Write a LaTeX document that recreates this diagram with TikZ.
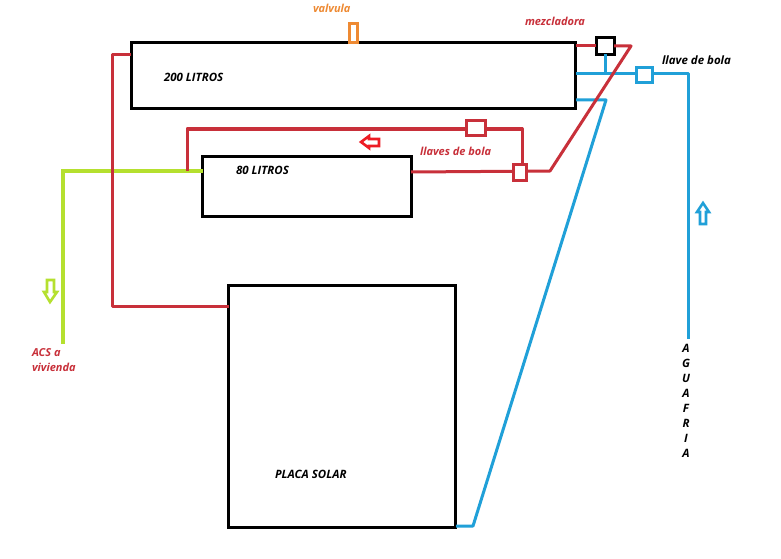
\documentclass[tikz,border=0pt]{standalone}
\usepackage{fontspec}
\setmainfont{Open Sans}
\definecolor{cred}{HTML}{C8303A}
\definecolor{cblue}{HTML}{20A0D8}
\definecolor{cgreen}{HTML}{B5E02F}
\definecolor{corange}{HTML}{EE8A33}
\definecolor{brightred}{HTML}{ED1C24}
\tikzset{
  tank/.style={draw=black,line width=3pt,fill=white,inner sep=0pt,outer sep=0pt,anchor=north west},
  valvebox/.style={draw=#1,line width=3pt,fill=white,inner sep=0pt,outer sep=0pt,anchor=center},
  redpipe/.style={draw=cred,line width=3pt,line join=round},
  bluepipe/.style={draw=cblue,line width=3pt,line join=round},
  greenpipe/.style={draw=cgreen,line width=4.5pt,line join=miter},
  flowarrow/.style={draw=#1,line width=2.6pt,fill=white,line join=miter},
  lbl/.style={font=\itshape\bfseries\fontsize{11}{15}\selectfont,inner sep=0pt,outer sep=0pt},
  blbl/.style={font=\itshape\bfseries\fontsize{11.5}{13}\selectfont,inner sep=0pt,outer sep=0pt,text=black},
  redlbl/.style={lbl,text=cred},
}
\begin{document}
\begin{tikzpicture}[x=1pt,y=-1pt]
\useasboundingbox[fill=white] (0,0) rectangle (781,559);
% tanks
\node[tank,minimum width=444pt,minimum height=66pt] (t200) at (131,43) {};
\node[tank,minimum width=209pt,minimum height=60pt] (t80) at (202,156) {};
\node[tank,minimum width=227pt,minimum height=242pt] (panel) at (228,285) {};
% junction coordinates
\coordinate (a1) at (131,55);
\coordinate (a2) at (112,55);
\coordinate (a3) at (112,306);
\coordinate (a4) at (229,306);
\coordinate (gA) at (203,171);
\coordinate (gB) at (63,171);
\coordinate (gC) at (63,344);
\coordinate (r1) at (187,171);
\coordinate (r2) at (187,129);
\coordinate (r3) at (522,129);
\coordinate (r4) at (522,165);
\coordinate (s1) at (411,172);
\coordinate (s2) at (550,171);
\coordinate (s3) at (631,46);
\coordinate (m1) at (576,46);
\coordinate (b1) at (576,74);
\coordinate (b2) at (688,74);
\coordinate (b3) at (688,339);
\coordinate (b4) at (605,74);
\coordinate (c1) at (576,100);
\coordinate (c2) at (606,100);
\coordinate (c3) at (473,526);
\coordinate (c4) at (456,526);
% pipes
\draw[greenpipe] (gA) -- (gB) -- (gC);
\draw[redpipe] (a1) -- (a2) -- (a3) -- (a4);
\draw[redpipe] (r1) -- (r2) -- (r3) -- (r4);
\draw[bluepipe] (b1) -- (b2) -- (b3);
\draw[bluepipe] (c1) -- (c2) -- (c3) -- (c4);
\node[valvebox=black,minimum width=18pt,minimum height=17pt] (mix) at (605,46) {};
\draw[bluepipe] (mix.south) -- (b4);
\draw[redpipe] (m1) -- (mix.west);
\draw[redpipe] (mix.east) -- (s3) -- (s2) -- (s1);
% valves
\node[valvebox=corange,minimum width=8pt,minimum height=19pt] (vv) at (353,33) {};
\node[valvebox=cred,minimum width=19pt,minimum height=15pt] (k1) at (476,128) {};
\node[valvebox=cred,minimum width=13pt,minimum height=16pt] (k2) at (520,172) {};
\node[valvebox=cblue,minimum width=16pt,minimum height=15pt] (k3) at (644,75) {};
% arrows
\draw[flowarrow=brightred] (361,142) -- (369,136) -- (369,139) -- (379,139) -- (379,146) -- (369,146) -- (369,148) -- cycle;
\draw[flowarrow=cgreen] (50,302) -- (44,292) -- (47,292) -- (47,280) -- (54,280) -- (54,292) -- (57,292) -- cycle;
\draw[flowarrow=cblue] (703,203) -- (709,212) -- (706,212) -- (706,224) -- (700,224) -- (700,212) -- (697,212) -- cycle;
% labels
\node[lbl,text=corange,anchor=west] (lv) at (313,8) {valvula};
\node[redlbl,anchor=west] (lm) at (525,21) {mezcladora};
\node[blbl,anchor=west] (lk) at (662,60) {llave de bola};
\node[blbl,anchor=west] (l200) at (164,77) {200 LITROS};
\node[blbl,anchor=west] (l80) at (236,170) {80 LITROS};
\node[redlbl,anchor=west] (ll) at (420,151) {llaves de bola};
\node[redlbl,anchor=north west,align=left] (la) at (32,349) {ACS a\\vivienda};
\node[blbl,anchor=west] (lp) at (275,474) {PLACA SOLAR};
\foreach \ch [count=\i from 0] in {A,G,U,A,F,R,I,A}
  \node[blbl,anchor=center] (w\i) at (686,348+15*\i) {\ch};
\end{tikzpicture}
\end{document}
